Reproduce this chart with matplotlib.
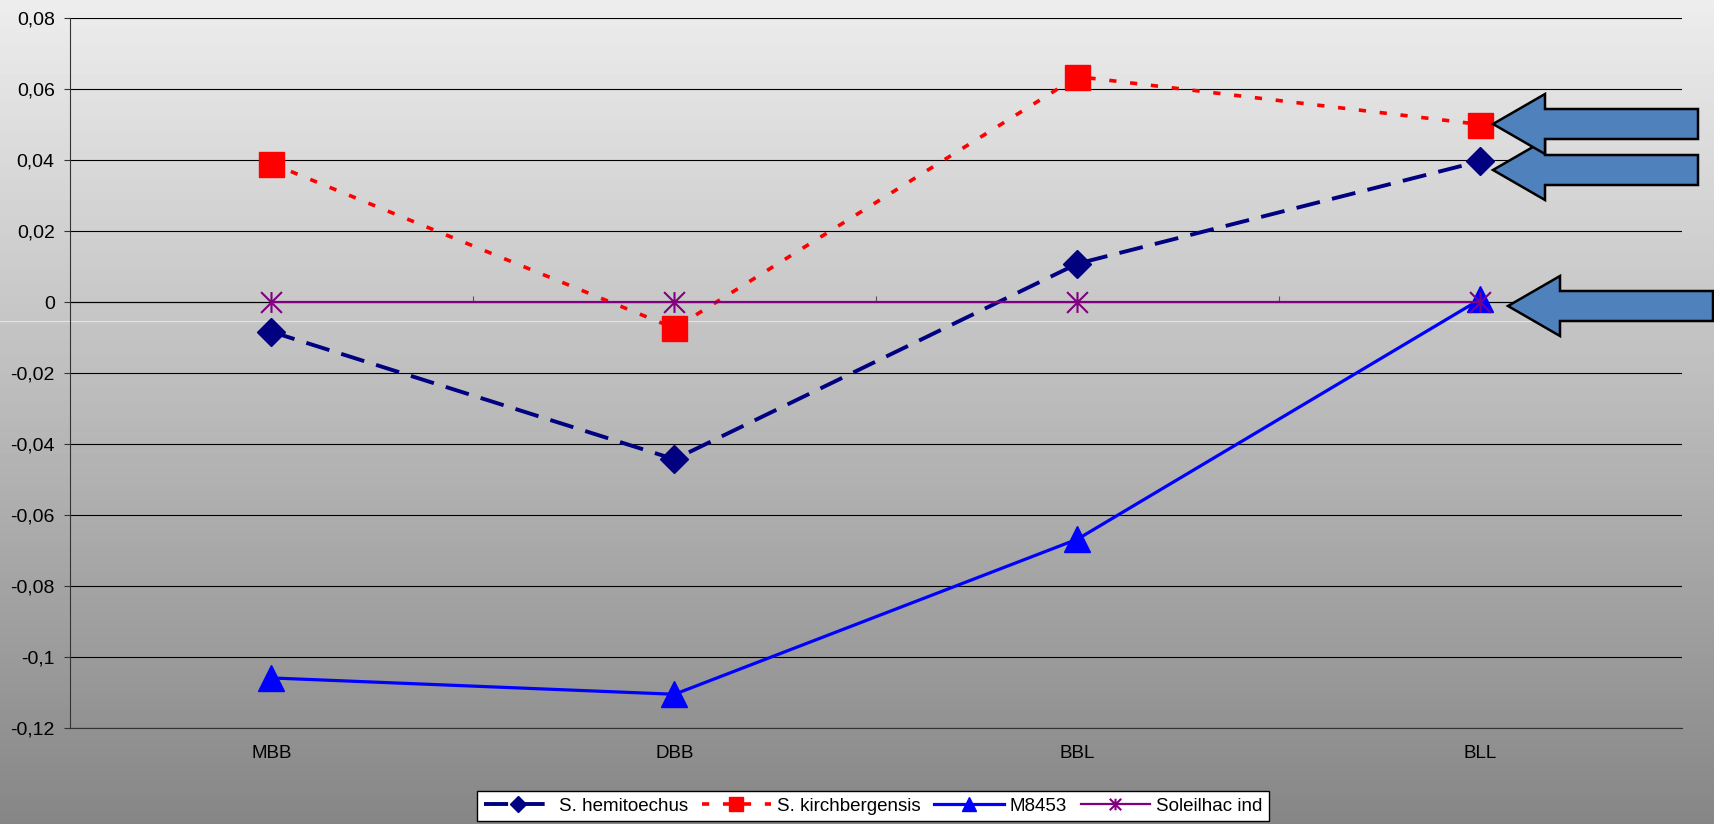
import numpy as np
import matplotlib
matplotlib.use('Agg')
import matplotlib.pyplot as plt
from matplotlib.path import Path
from matplotlib.patches import Polygon
from matplotlib.lines import Line2D
from matplotlib.ticker import FuncFormatter

plt.rcParams['font.family'] = ['Liberation Sans', 'DejaVu Sans']

# Données
categories = ['MBB', 'DBB', 'BBL', 'BLL']
hemitoechus = [-0.0084, -0.0443, 0.0108, 0.0397]
kirchbergensis = [0.039, -0.0074, 0.0635, 0.050]
m8453 = [-0.1059, -0.1105, -0.0668, 0.0008]
soleilhac = [0.0, 0.0, 0.0, 0.0]

W, H = 1715, 824
fig = plt.figure(figsize=(W / 100, H / 100), dpi=100)

# fond dégradé sur toute la figure
bg = fig.add_axes([0, 0, 1, 1], zorder=-10)
grad = np.linspace(237, 134, 256)[:, None] / 255.0
bg.imshow(np.repeat(grad, 2, axis=1), cmap='gray', vmin=0, vmax=1,
          aspect='auto', extent=[0, 1, 0, 1])
bg.axis('off')

ax = fig.add_axes([70 / W, 1 - 728 / H, 1612 / W, 710 / H])
ax.patch.set_alpha(0)

x = np.arange(len(categories))

star = Path([(-1, -1), (1, 1), (-1, 1), (1, -1), (0, -1), (0, 1)],
            [Path.MOVETO, Path.LINETO, Path.MOVETO, Path.LINETO,
             Path.MOVETO, Path.LINETO])

ax.plot(x, hemitoechus, color='#000080', lw=2.8, dashes=(6.2, 3.2),
        marker='D', ms=14, label='S. hemitoechus', zorder=4)
ax.plot(x, kirchbergensis, color='#FF0000', lw=2.6, dashes=(2.0, 3.8),
        marker='s', ms=18, label='S. kirchbergensis', zorder=4)
ax.plot(x, m8453, color='#0000FF', lw=2.3, marker='^', ms=19,
        label='M8453', zorder=4)
ax.plot(x, soleilhac, color='#800080', lw=1.6, marker=star, ms=15,
        mew=1.5, label='Soleilhac ind', zorder=5)

ax.set_xlim(-0.5, 3.5)
ax.set_ylim(-0.12, 0.08)
ax.set_yticks(np.arange(-0.12, 0.081, 0.02))
ax.yaxis.set_major_formatter(FuncFormatter(
    lambda v, p: ('%g' % round(v, 2)).replace('.', ',')))
ax.grid(axis='y', color='black', lw=0.8)
ax.set_axisbelow(True)
ax.set_xticks(x)
ax.set_xticklabels(categories)
ax.tick_params(axis='x', length=0, pad=12, labelsize=13.5)
ax.tick_params(axis='y', length=4, width=0.8, color='#333333', pad=7,
               labelsize=14)
for s in ['top', 'right']:
    ax.spines[s].set_visible(False)
ax.spines['left'].set_color('#333333')
ax.spines['bottom'].set_color('#333333')

# axe des catégories à zéro
sec = ax.secondary_xaxis(0.6)
sec.set_xticks([0.5, 1.5, 2.5])
sec.set_xticklabels([])
sec.tick_params(length=4, width=0.8, color='#555555')
sec.spines['bottom'].set_color('#808080')
sec.spines['bottom'].set_linewidth(1.2)

# fine ligne claire du dégradé
fig.add_artist(Line2D([0, 1], [1 - 321 / H] * 2, color='#E4E4E4',
                      lw=0.8, transform=fig.transFigure, zorder=-5))

# flèches
def fleche(tx, ty, longueur=205, tete=52, demi_tete=30, demi_corps=15):
    pts = [(tx, ty), (tx + tete, ty - demi_tete), (tx + tete, ty - demi_corps),
           (tx + longueur, ty - demi_corps), (tx + longueur, ty + demi_corps),
           (tx + tete, ty + demi_corps), (tx + tete, ty + demi_tete)]
    pts = [(px, H - py) for px, py in pts]
    return Polygon(pts, closed=True, transform=None, facecolor='#4F81BD',
                   edgecolor='black', lw=1.8, clip_on=False, zorder=20)

fig.add_artist(fleche(1493, 170))
fig.add_artist(fleche(1493, 124))
fig.add_artist(fleche(1508, 306))

leg = fig.legend(loc='upper left', bbox_to_anchor=(477 / W, 1 - 791 / H),
                 ncol=4, frameon=True, fancybox=False, framealpha=1,
                 edgecolor='black', fontsize=13.5, markerscale=0.55,
                 handlelength=3.7, handletextpad=0.3, columnspacing=0.75,
                 borderpad=0.35, borderaxespad=0)
leg.get_frame().set_linewidth(1)

fig.savefig('out.png', dpi=100)
